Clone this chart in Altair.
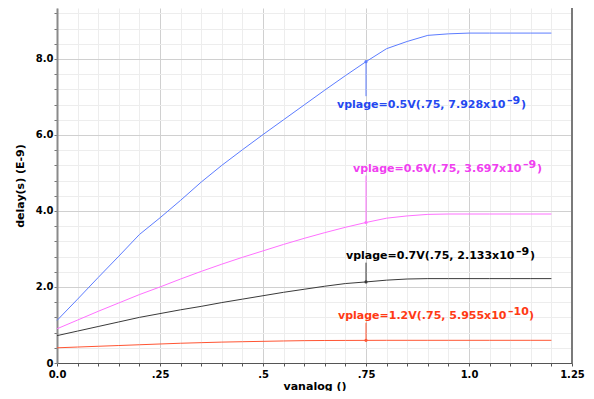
import altair as alt
import pandas as pd

# ---------------- data ----------------
x_vals = [0.0, 0.05, 0.1, 0.15, 0.2, 0.25, 0.3, 0.35, 0.4, 0.45, 0.5, 0.55, 0.6,
          0.65, 0.7, 0.75, 0.8, 0.85, 0.9, 0.95, 1.0, 1.05, 1.1, 1.15, 1.2]
delay_05 = [1.12, 1.68, 2.25, 2.81, 3.38, 3.82, 4.28, 4.76, 5.20, 5.61, 6.01, 6.40, 6.79,
            7.18, 7.56, 7.928, 8.27, 8.46, 8.62, 8.66, 8.68, 8.68, 8.68, 8.68, 8.68]
delay_06 = [0.90, 1.13, 1.36, 1.58, 1.80, 2.00, 2.21, 2.41, 2.60, 2.78, 2.95, 3.12, 3.28,
            3.43, 3.57, 3.697, 3.81, 3.87, 3.91, 3.92, 3.92, 3.92, 3.92, 3.92, 3.92]
delay_07 = [0.72, 0.84, 0.96, 1.08, 1.20, 1.30, 1.40, 1.49, 1.59, 1.68, 1.77, 1.86, 1.94,
            2.02, 2.09, 2.133, 2.18, 2.21, 2.22, 2.22, 2.22, 2.22, 2.22, 2.22, 2.22]
delay_12 = [0.40, 0.42, 0.44, 0.46, 0.48, 0.50, 0.52, 0.535, 0.55, 0.56, 0.57, 0.58, 0.588,
            0.592, 0.594, 0.5955, 0.597, 0.597, 0.597, 0.597, 0.597, 0.597, 0.597, 0.597, 0.597]
series_names = ["vplage=0.5V", "vplage=0.6V", "vplage=0.7V", "vplage=1.2V"]

marker_x = 0.75
marker_y = [7.928, 3.697, 2.133, 0.5955]
marker_text = ["vplage=0.5V(.75, 7.928x10", "vplage=0.6V(.75, 3.697x10",
               "vplage=0.7V(.75, 2.133x10", "vplage=1.2V(.75, 5.955x10"]
marker_exp = ["\u20139", "\u20139", "\u20139", "\u201310"]

x_ticks = [0.0, 0.25, 0.5, 0.75, 1.0, 1.25]
x_tick_labels = ["0.0", ".25", ".5", ".75", "1.0", "1.25"]
y_ticks = [0, 2, 4, 6, 8]
y_tick_labels = ["0", "2.0", "4.0", "6.0", "8.0"]
x_minor = [round(i * 0.05, 2) for i in range(26)]
y_minor = [round(i * 0.4, 1) for i in range(24)]

# ---------------- styling ----------------
line_colors = ["#5c7cff", "#ff70ff", "#3a3a3a", "#ff5533"]
text_colors = ["#2448f0", "#f040f0", "#000000", "#ff3a14"]
label_y = [6.80, 5.11, 2.81, 1.23]
label_edge = [7.02, 4.93, 2.64, 1.06]
label_dx = [-29, -13, -20, -28]
close_dx = [184, 184, 184, 191]

W, H = 515, 355
Y_MAX = 9.34

def label_expr(vals, labels):
    expr = "''"
    for v, l in reversed(list(zip(vals, labels))):
        expr = f"abs(datum.value-({v}))<0.000001 ? '{l}' : {expr}"
    return expr

def major_test(vals):
    return " || ".join(f"abs(datum.value-({v}))<0.000001" for v in vals)

FONT = "DejaVu Sans"

rows = []
for name, ys in zip(series_names, [delay_05, delay_06, delay_07, delay_12]):
    for xv, yv in zip(x_vals, ys):
        rows.append({"vanalog": xv, "delay": yv, "series": name})
df = pd.DataFrame(rows)

x_scale = alt.Scale(domain=[0, 1.25], nice=False, zero=False)
y_scale = alt.Scale(domain=[0, Y_MAX], nice=False, zero=False)

x_axis = alt.Axis(
    values=x_minor, labelExpr=label_expr(x_ticks, x_tick_labels),
    title="vanalog ()", grid=True,
    gridColor={"condition": {"test": major_test(x_ticks), "value": "#d0d0d0"}, "value": "#ededed"},
    labelFlush=False, labelOverlap=False, labelFont=FONT, labelFontSize=10,
    labelFontWeight="bold", labelColor="#000", labelPadding=3,
    titleFont=FONT, titleFontSize=11, titleFontWeight="bold", titleColor="#000",
    titlePadding=1, tickSize=3, tickColor="#555", domainColor="#555",
)
y_axis = alt.Axis(
    values=y_minor, labelExpr=label_expr(y_ticks, y_tick_labels),
    title="delay(s) (E-9)", grid=True,
    gridColor={"condition": {"test": major_test(y_ticks), "value": "#d0d0d0"}, "value": "#ededed"},
    labelFlush=False, labelOverlap=False, labelFont=FONT, labelFontSize=10,
    labelFontWeight="bold", labelColor="#000", labelPadding=1,
    titleFont=FONT, titleFontSize=11, titleFontWeight="bold", titleColor="#000",
    titlePadding=10, tickSize=3, tickColor="#777", domainColor="#8a8a8a", domainWidth=2,
)

color_scale = alt.Scale(domain=series_names, range=line_colors)

def X(field):
    return alt.X(field, scale=x_scale, axis=x_axis, title="vanalog ()")

def Y(field):
    return alt.Y(field, scale=y_scale, axis=y_axis, title="delay(s) (E-9)")

lines = alt.Chart(df).mark_line(strokeWidth=1).encode(
    x=X("vanalog:Q"),
    y=Y("delay:Q"),
    color=alt.Color("series:N", scale=color_scale, legend=None),
    detail="series:N",
)

border = alt.Chart(df).mark_rule(color="#7a7a7a", strokeWidth=2).encode(
    x=alt.value(W), y=alt.value(0), y2=alt.value(H))

layers = [lines, border]
for i in range(4):
    ann = pd.DataFrame({"vanalog": [marker_x], "delay": [marker_y[i]], "ly": [label_y[i]],
                        "le": [label_edge[i]], "t": [marker_text[i]], "e": [marker_exp[i]]})
    base = alt.Chart(ann)
    layers.append(base.mark_rule(color=line_colors[i], strokeWidth=1).encode(
        x=X("vanalog:Q"), y=Y("delay:Q"), y2="le:Q"))
    layers.append(base.mark_circle(size=10, color=line_colors[i], opacity=1).encode(
        x=X("vanalog:Q"), y=Y("delay:Q")))
    common = dict(font=FONT, fontSize=11, fontWeight="bold", color=text_colors[i],
                  align="left", baseline="middle")
    layers.append(base.mark_text(dx=label_dx[i], **common).encode(
        x=X("vanalog:Q"), y=Y("ly:Q"), text="t:N"))
    layers.append(base.mark_text(dx=label_dx[i] + 170, dy=-4, **common).encode(
        x=X("vanalog:Q"), y=Y("ly:Q"), text="e:N"))
    layers.append(base.mark_text(dx=label_dx[i] + close_dx[i], **common).encode(
        x=X("vanalog:Q"), y=Y("ly:Q"), text=alt.value(")")))

chart = alt.layer(*layers).properties(
    width=W, height=H,
    padding={"left": 49, "top": 0, "right": 14, "bottom": 28},
    autosize=alt.AutoSizeParams(type="none"),
    background="white",
).configure_view(stroke=None)

chart.save("out.html", embed_options={"renderer": "svg", "actions": False})
